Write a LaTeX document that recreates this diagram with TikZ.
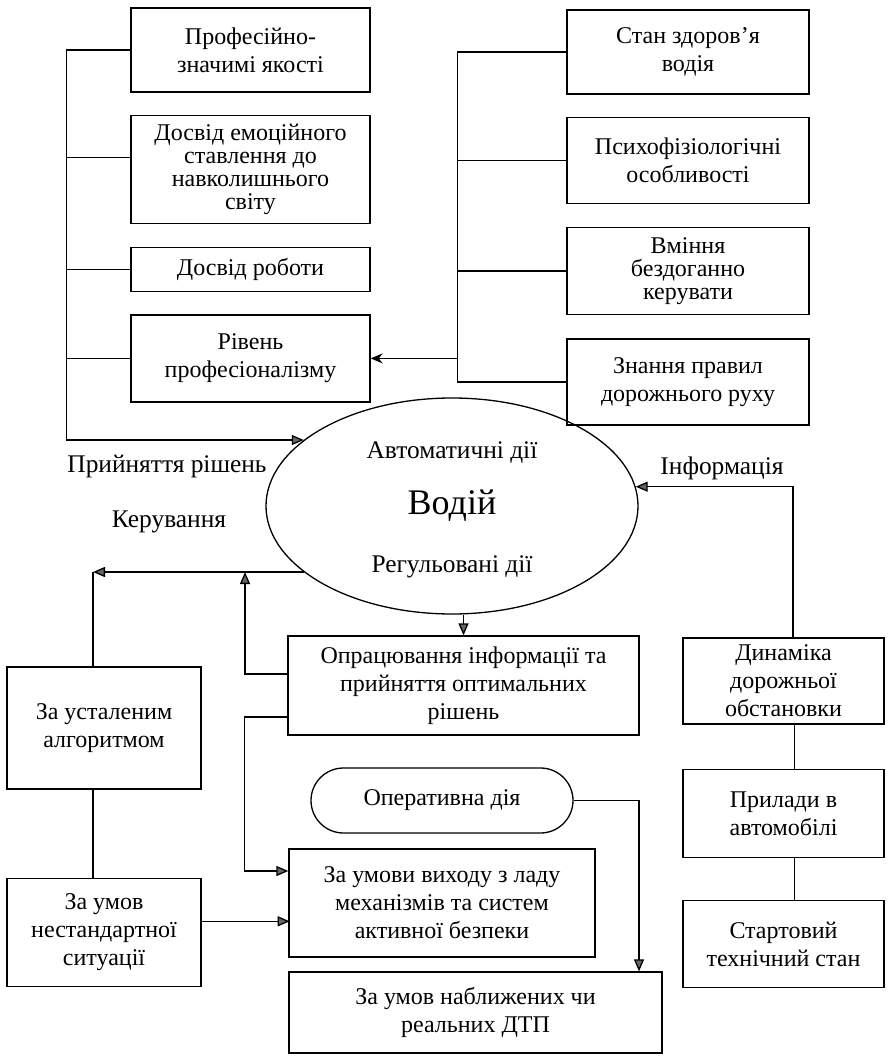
\documentclass[tikz,border=0pt]{standalone}
\usepackage{fontspec}
\setmainfont{Liberation Serif}
\usetikzlibrary{positioning, shapes.geometric, arrows.meta}

\begin{document}
\begin{tikzpicture}[x=0.5pt, y=-0.5pt, line width=0.65pt,
        >={Triangle[length=6pt, width=5pt, fill=black!60]},
        main node/.style={rectangle, draw, align=center, inner sep=2pt,
        font=\fontsize{12}{14}\selectfont},
        tight node/.style={main node, font=\fontsize{12}{11.5}\selectfont},
        caption/.style={font=\fontsize{12.7}{14}\selectfont}]
        \useasboundingbox (0,0) rectangle (889,1058);

        \node[main node, minimum width=119.5pt, minimum height=42pt] (prof) at (250.5,50) {Професійно-\\значимі якості};
        \node[tight node, minimum width=119.5pt, minimum height=54pt, below=11pt of prof] (emo) {Досвід емоційного\\ставлення до\\навколишнього\\світу};
        \node[main node, minimum width=119.5pt, minimum height=22pt, below=11.5pt of emo] (work) {Досвід роботи};
        \node[main node, minimum width=119.5pt, minimum height=43.5pt, below=11pt of work] (level) {Рівень\\професіоналізму};

        \node[main node, minimum width=121pt, minimum height=42pt] (health) at (688,52) {Стан здоров’я\\водія};
        \node[main node, minimum width=121pt, minimum height=43pt, below=11pt of health] (psycho) {Психофізіологічні\\особливості};
        \node[tight node, minimum width=121pt, minimum height=43.5pt, below=11.5pt of psycho] (skill) {Вміння\\бездоганно\\керувати};
        \node[main node, minimum width=121pt, minimum height=43pt, below=11.5pt of skill] (rules) {Знання правил\\дорожнього руху};

        \node[ellipse, draw, minimum width=186pt, minimum height=108pt, inner sep=0pt,
            font=\fontsize{18}{20}\selectfont] (driver) at (452,506) {Водій};
        \node[caption] (auto) at (452,453) {Автоматичні дії};
        \node[caption] (reg) at (452,567) {Регульовані дії};
        \node[caption] (decide) at (167,467) {Прийняття рішень};
        \node[caption] (control) at (169,522) {Керування};
        \node[caption] (info) at (722,468) {Інформація};

        \node[main node, minimum width=175.5pt, minimum height=49.5pt] (opr) at (463.5,685.5) {Опрацювання інформації та\\прийняття оптимальних\\рішень};
        \node[main node, rounded corners=16.25pt, minimum width=131pt, minimum height=32.5pt] (oper) at (442,800.5) {Оперативна дія};
        \node[main node, minimum width=153pt, minimum height=54pt] (fail) at (442,903) {За умови виходу з ладу\\механізмів та систем\\активної безпеки};
        \node[main node, minimum width=186.5pt, minimum height=40.5pt] (dtp) at (475.5,1012.5) {За умов наближених чи\\реальних ДТП};

        \node[main node, minimum width=97pt, minimum height=61pt] (algo) at (104,728) {За усталеним\\алгоритмом};
        \node[main node, minimum width=97pt, minimum height=54pt, below=44pt of algo] (nonstd) {За умов\\нестандартної\\ситуації};

        \node[main node, minimum width=100.5pt, minimum height=43pt] (dyn) at (783.5,681) {Динаміка\\дорожньої\\обстановки};
        \node[main node, minimum width=100.5pt, minimum height=44pt, below=22pt of dyn] (dev) {Прилади в\\автомобілі};
        \node[main node, minimum width=100.5pt, minimum height=43.5pt, below=21pt of dev] (initial) {Стартовий\\технічний стан};

        \coordinate (ctl) at (93,572);
        \coordinate (mid) at (245,572);

        \draw[->] (prof.west) -- ++(-32pt,0) coordinate (lbus) |- (driver.156);
        \draw ([yshift=6pt]emo.west) -- ++(-32pt,0);
        \draw (work.west) -- (work.west -| lbus);
        \draw (level.west) -- (level.west -| lbus);

        \draw (health.west) -- ++(-54.5pt,0) coordinate (rbus) |- (rules.west);
        \draw (psycho.west) -- (psycho.west -| rbus);
        \draw (skill.west) -- (skill.west -| rbus);
        \draw[-{Stealth[length=6pt, width=5pt]}] (level.east -| rbus) -- (level.east);

        \draw[->] (driver.204) -- (driver.204 -| ctl);
        \draw (algo.north -| ctl) -- (driver.204 -| ctl);
        \draw (algo.south -| ctl) -- (nonstd.north -| ctl);
        \draw[->] (opr.north |- driver.south) -- (opr.north);
        \draw[->] ([yshift=5.75pt]opr.west) -| (mid);
        \draw[->] ([yshift=-15.75pt]opr.west) -- ++(-21.5pt,0) |- ([yshift=16pt]fail.west);
        \draw[->] ([yshift=5.5pt]nonstd.east) -- ++(44pt,0);
        \draw[->] (oper.east) -| ([xshift=81.75pt]dtp.north);

        \draw[->] ([xshift=4.75pt]dyn.north) |- (driver.6);
        \draw ([xshift=5.5pt]dyn.south) -- ([xshift=5.5pt]dev.north);
        \draw ([xshift=5.5pt]dev.south) -- ([xshift=5.5pt]initial.north);
    \end{tikzpicture}
\end{document}
